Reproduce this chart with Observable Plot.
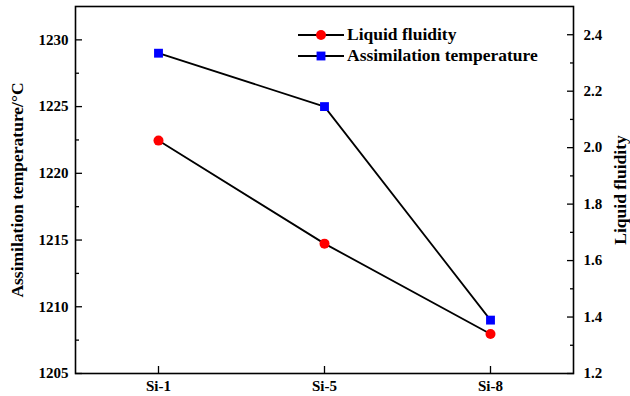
<!DOCTYPE html>
<html>
<head>
<meta charset="utf-8">
<script src="https://cdn.jsdelivr.net/npm/d3@7"></script>
<script src="https://cdn.jsdelivr.net/npm/@observablehq/plot@0.6"></script>
<style>
  html, body { margin: 0; padding: 0; background: white; }
  #wrap { position: relative; width: 630px; height: 396px; font-family: "Liberation Serif", "Times New Roman", serif; font-weight: bold; }
  #legend { position: absolute; left: 298px; top: 24px; font-size: 17.5px; line-height: 21px; color: black; }
  #legend .row { display: flex; align-items: center; white-space: nowrap; }
  #legend svg { margin-right: 3px; }
</style>
</head>
<body>
<div id="wrap"></div>
<script>
const categories = ["Si-1", "Si-5", "Si-8"];
const temperature = [1229, 1225, 1209];
const fluidity = [2.025, 1.66, 1.34];

const tempDomain = [1205, 1232.5];
const fluidDomain = [1.2, 2.5];
const tempTicks = [1205, 1210, 1215, 1220, 1225, 1230];
const tempMinor = [1207.5, 1212.5, 1217.5, 1222.5, 1227.5];
const fluidTicks = [1.2, 1.4, 1.6, 1.8, 2.0, 2.2, 2.4];
const fluidMinor = [1.3, 1.5, 1.7, 1.9, 2.1, 2.3];

const seriesNames = ["Liquid fluidity", "Assimilation temperature"];
const seriesColors = ["#ff0000", "#0000ff"];
const seriesSymbols = ["circle", "square"];
const yTitle = "Assimilation temperature/\u00B0C";
const y2Title = "Liquid fluidity";

// map fluidity values onto the temperature scale (secondary axis)
const f2t = d3.scaleLinear().domain(fluidDomain).range(tempDomain);

const tempData = categories.map((c, i) => ({cat: c, v: temperature[i]}));
const fluidData = categories.map((c, i) => ({cat: c, v: f2t(fluidity[i])}));

const fmtF = d => d3.format(".1f")(f2t.invert(d));

const chart = Plot.plot({
  width: 630,
  height: 396,
  marginLeft: 75,
  marginRight: 57,
  marginTop: 6,
  marginBottom: 23,
  style: {fontFamily: "'Liberation Serif', 'Times New Roman', serif", fontWeight: "bold", fontSize: "15px", background: "white", color: "black"},
  x: {type: "point", domain: categories, padding: 0.5, label: null},
  y: {domain: tempDomain, label: null},
  marks: [
    // left axis
    Plot.axisY(tempTicks, {anchor: "left", tickSize: -7, text: null, strokeWidth: 1.3}),
    Plot.axisY(tempMinor, {anchor: "left", tickSize: -4, text: null, strokeWidth: 1.3}),
    Plot.axisY(tempTicks, {anchor: "left", tickSize: 0, tickPadding: 7, tickFormat: "d", label: null}),
    // right axis (fluidity)
    Plot.axisY(fluidTicks.map(f2t), {anchor: "right", tickSize: -7, text: null, strokeWidth: 1.3}),
    Plot.axisY(fluidMinor.map(f2t), {anchor: "right", tickSize: -4, text: null, strokeWidth: 1.3}),
    Plot.axisY(fluidTicks.map(f2t), {anchor: "right", tickSize: 0, tickPadding: 10, tickFormat: fmtF, label: null}),
    // bottom axis
    Plot.axisX({anchor: "bottom", tickSize: -7, text: null, strokeWidth: 1.3}),
    Plot.axisX({anchor: "bottom", tickSize: 0, tickPadding: 7, label: null}),
    Plot.frame({stroke: "black", strokeWidth: 1.6}),
    // axis titles
    Plot.text([yTitle], {frameAnchor: "left", dx: -58, rotate: -90, textAnchor: "middle", lineAnchor: "middle", fontSize: 17.5, fontWeight: "bold"}),
    Plot.text([y2Title], {frameAnchor: "right", dx: 47, rotate: -90, textAnchor: "middle", lineAnchor: "middle", fontSize: 17.5, fontWeight: "bold"}),
    // series
    Plot.line(tempData, {x: "cat", y: "v", stroke: "black", strokeWidth: 1.8}),
    Plot.line(fluidData, {x: "cat", y: "v", stroke: "black", strokeWidth: 1.8}),
    Plot.dot(tempData, {x: "cat", y: "v", symbol: seriesSymbols[1], fill: seriesColors[1], r: 5}),
    Plot.dot(fluidData, {x: "cat", y: "v", symbol: seriesSymbols[0], fill: seriesColors[0], r: 5})
  ]
});

const wrap = document.getElementById("wrap");
wrap.appendChild(chart);

const legend = document.createElement("div");
legend.id = "legend";
seriesNames.forEach((name, i) => {
  const row = document.createElement("div");
  row.className = "row";
  const sw = d3.create("svg").attr("width", 46).attr("height", 12);
  sw.append("line").attr("x1", 0).attr("x2", 46).attr("y1", 6).attr("y2", 6).attr("stroke", "black").attr("stroke-width", 1.8);
  sw.append("path").attr("transform", "translate(23,6)")
    .attr("d", d3.symbol(seriesSymbols[i] === "circle" ? d3.symbolCircle : d3.symbolSquare, Math.PI * 25)())
    .attr("fill", seriesColors[i]);
  row.appendChild(sw.node());
  const label = document.createElement("span");
  label.textContent = name;
  row.appendChild(label);
  legend.appendChild(row);
});
wrap.appendChild(legend);
</script>
</body>
</html>
